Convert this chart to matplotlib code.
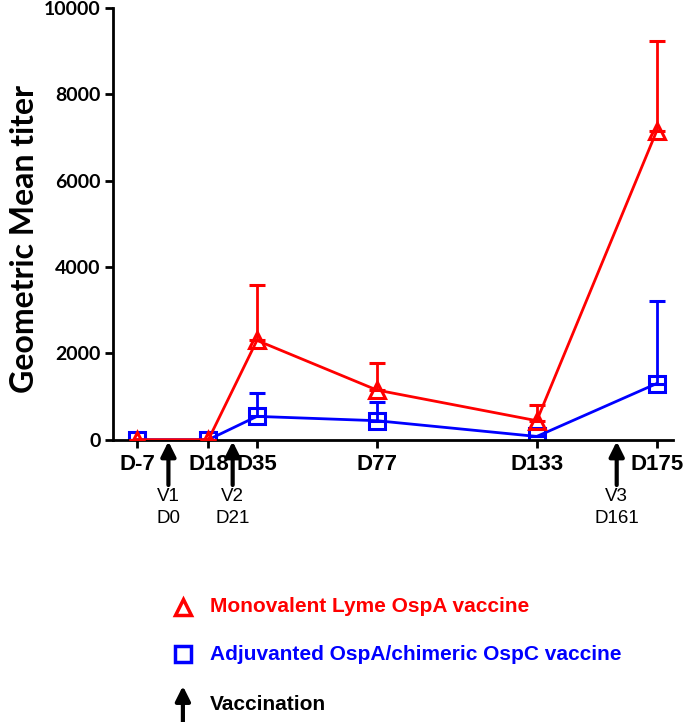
import matplotlib
matplotlib.use('Agg')
import matplotlib.pyplot as plt
from matplotlib.lines import Line2D
from matplotlib.patches import FancyArrowPatch

plt.rcParams['font.family'] = ['Liberation Sans', 'DejaVu Sans']

# study days and titers
days = [-7, 18, 35, 77, 133, 175]
day_labels = ['D-7', 'D18', 'D35', 'D77', 'D133', 'D175']

ospa_gmt = [0, 0, 2300, 1150, 440, 7150]
ospa_err = [0, 0, 1280, 630, 360, 2080]

combo_gmt = [0, 0, 540, 440, 75, 1300]
combo_err = [0, 0, 540, 440, 0, 1920]

# vaccination arrows (x placement as drawn), labels
vacc_x = [4, 26.5, 161]
vacc_labels = ['V1\nD0', 'V2\nD21', 'V3\nD161']

red = '#FF0000'
blue = '#0000FF'

fig = plt.figure(figsize=(6.85, 7.22), dpi=100)
ax = fig.add_axes([0.165, 0.391, 0.817, 0.598])

ax.errorbar(days, combo_gmt, yerr=[[0]*len(days), combo_err], color=blue, lw=2,
            marker='s', ms=11, mfc='none', mew=2.2, capsize=6, capthick=2, elinewidth=2, zorder=2)
ax.errorbar(days, ospa_gmt, yerr=[[0]*len(days), ospa_err], color=red, lw=2,
            marker='^', ms=11, mfc='none', mew=2.2, capsize=6, capthick=2, elinewidth=2, zorder=3)

ax.set_xlim(-15.4, 180.6)
ax.set_ylim(0, 10000)
ax.set_yticks([0, 2000, 4000, 6000, 8000, 10000])
ax.set_xticks(days)
ax.set_xticklabels(day_labels)
for s in ['top', 'right']:
    ax.spines[s].set_visible(False)
for s in ['left', 'bottom']:
    ax.spines[s].set_linewidth(2)
ax.tick_params(width=2, length=6)
ax.tick_params(axis='x', labelsize=16, pad=4)
ax.tick_params(axis='y', labelsize=14, pad=3)
for lab in ax.get_xticklabels():
    lab.set_fontweight('bold')
for lab in ax.get_yticklabels():
    lab.set_fontweight('bold')
    lab.set_family(['Lato', 'DejaVu Sans'])
ax.set_ylabel('Geometric Mean titer', fontsize=23, fontweight='bold',
              family=['Lato', 'DejaVu Sans'])
ax.yaxis.set_label_coords(-0.132, 0.465)

for x, lab in zip(vacc_x, vacc_labels):
    ax.annotate('', xy=(x, -0.004), xytext=(x, -0.105),
                xycoords=('data', 'axes fraction'), textcoords=('data', 'axes fraction'),
                arrowprops=dict(arrowstyle='-|>', lw=3, mutation_scale=22, color='black',
                                shrinkA=0, shrinkB=0),
                annotation_clip=False)
    ax.text(x, -0.112, lab, transform=ax.get_xaxis_transform(), ha='center', va='top',
            fontsize=13.5, linespacing=1.35, clip_on=False)

# legend drawn by hand
fig.add_artist(Line2D([0.267], [1 - 607/722], marker='^', ms=12, mfc='none', mec=red, mew=2.5,
                      transform=fig.transFigure))
fig.text(0.307, 1 - 607/722, 'Monovalent Lyme OspA vaccine', color=red, fontsize=15,
         fontweight='bold', va='center')
fig.add_artist(Line2D([0.267], [1 - 654/722], marker='s', ms=11, mfc='none', mec=blue, mew=2.5,
                      transform=fig.transFigure))
fig.text(0.307, 1 - 654/722, 'Adjuvanted OspA/chimeric OspC vaccine', color=blue, fontsize=15,
         fontweight='bold', va='center')
fig.add_artist(FancyArrowPatch((0.267, 0.0), (0.267, 1 - 686/722),
               transform=fig.transFigure, arrowstyle='-|>', lw=3, mutation_scale=22,
               color='black', shrinkA=0, shrinkB=0))
fig.text(0.307, 1 - 705/722, 'Vaccination', color='black', fontsize=15,
         fontweight='bold', va='center')

fig.savefig('out.png', dpi=100)
